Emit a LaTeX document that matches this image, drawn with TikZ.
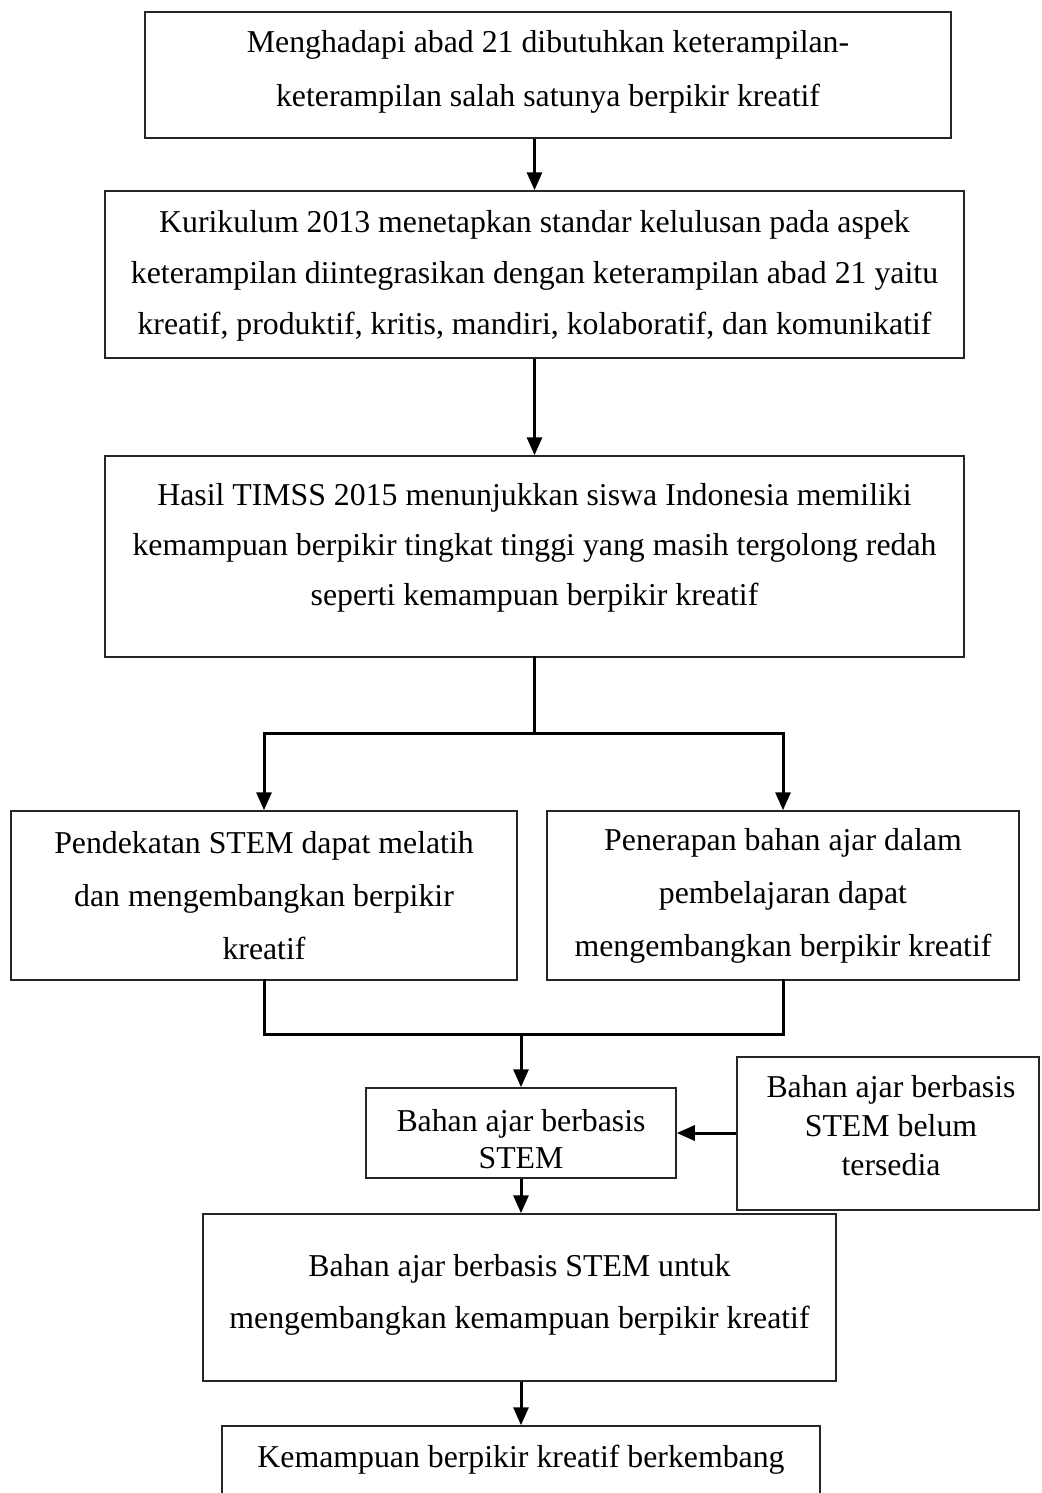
\documentclass[tikz,border=0pt]{standalone}
\usepackage{fontspec}
\setmainfont{Liberation Serif}
\usetikzlibrary{arrows.meta}

\tikzset{
  box/.style n args={2}{draw=black!85, line width=0.75pt, minimum width=#1,
    minimum height=#2, inner sep=0pt},
  label/.style={align=center, inner sep=0pt,
    font=\fontsize{15.9pt}{#1}\selectfont},
  label/.default={26pt},
  link/.style={line width=1.5pt, line cap=rect},
  arr/.style={line width=1.5pt, -{Triangle[length=9pt,width=7.5pt]}},
}

\begin{document}
\begin{tikzpicture}[x=0.5pt,y=-0.5pt]
\useasboundingbox (0,0) rectangle (1041,1493);
\clip (0,0) rectangle (1041,1493);
\fill[white] (0,0) rectangle (1041,1493);

% boxes
\node[box={403pt}{63pt}]     (B1)  at (548,75)      {};
\node[box={429.5pt}{83.5pt}] (B2)  at (534.5,274.5) {};
\node[box={429.5pt}{100.5pt}](B3)  at (534.5,556.5) {};
\node[box={253pt}{84.5pt}]   (B4L) at (264,895.5)   {};
\node[box={236pt}{84.5pt}]   (B4R) at (783,895.5)   {};
\node[box={155pt}{45pt}]     (B5)  at (521,1133)    {};
\node[box={151pt}{76.5pt}]   (B6)  at (888,1133.5)  {};
\node[box={316.5pt}{83.5pt}] (B7)  at (519.5,1297.5){};
\node[box={299pt}{52pt}]     (B8)  at (521,1478)    {};

% texts
\node[label={27pt}] (T1) at (548,72) {Menghadapi abad 21 dibutuhkan keterampilan-\\keterampilan salah satunya berpikir kreatif};
\node[label={25.5pt}] (T2) at (534.5,276) {Kurikulum 2013 menetapkan standar kelulusan pada aspek\\keterampilan diintegrasikan dengan keterampilan abad 21 yaitu\\kreatif, produktif, kritis, mandiri, kolaboratif, dan komunikatif};
\node[label={25pt}] (T3) at (534.5,548) {Hasil TIMSS 2015 menunjukkan siswa Indonesia memiliki\\kemampuan berpikir tingkat tinggi yang masih tergolong redah\\seperti kemampuan berpikir kreatif};
\node[label={26.5pt}] (T4L) at (264,896) {Pendekatan STEM dapat melatih\\dan mengembangkan berpikir\\kreatif};
\node[label={26.5pt}] (T4R) at (783,896) {Penerapan bahan ajar dalam\\pembelajaran dapat\\mengembangkan berpikir kreatif};
\node[label={18.5pt}] (T5) at (521,1139) {Bahan ajar berbasis\\STEM};
\node[label={19.5pt}] (T6) at (891,1126) {Bahan ajar berbasis\\STEM belum\\tersedia};
\node[label={26pt}] (T7) at (519.5,1295) {Bahan ajar berbasis STEM untuk\\mengembangkan kemampuan berpikir kreatif};
\node[label] (T8) at (521,1460) {Kemampuan berpikir kreatif berkembang};

% junction levels
\coordinate (J1) at (0,733);
\coordinate (J2) at (0,1034);

% connectors
\draw[arr] (B1.south -| B2.north) -- (B2.north);
\draw[arr] (B2.south) -- (B3.north);
\draw[link] (B3.south) -- (B3.south |- J1);
\draw[link] (B4L.north |- J1) -- (B4R.north |- J1);
\draw[arr] (B4L.north |- J1) -- (B4L.north);
\draw[arr] (B4R.north |- J1) -- (B4R.north);
\draw[link] (B4L.south) -- (B4L.south |- J2) -- (B4R.south |- J2) -- (B4R.south);
\draw[arr] (B5.north |- J2) -- (B5.north);
\draw[arr] (B6.west |- B5.east) -- (B5.east);
\draw[arr] (B5.south) -- (B5.south |- B7.north);
\draw[arr] (B7.south -| B8.north) -- (B8.north);
\end{tikzpicture}
\end{document}
